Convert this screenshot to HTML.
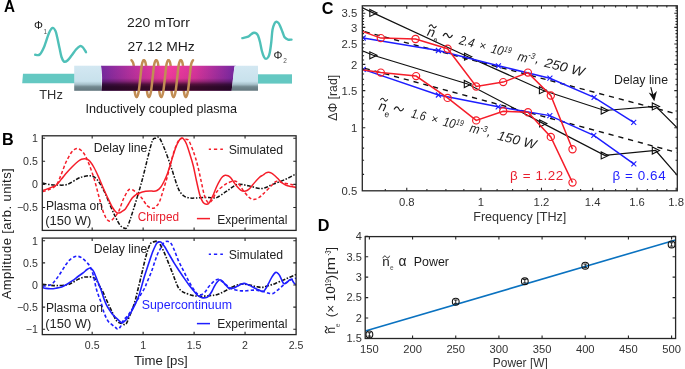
<!DOCTYPE html>
<html><head><meta charset="utf-8"><style>
html,body{margin:0;padding:0;background:#fff;}
body{width:685px;height:369px;overflow:hidden;}
svg{display:block;font-family:"Liberation Sans", sans-serif;will-change:transform;}
</style></head><body>
<svg width="685" height="369" viewBox="0 0 685 369">
<rect width="685" height="369" fill="#fff"/>
<text x="4" y="11.7" font-size="16.2" text-anchor="start" fill="#000" font-weight="bold" font-style="normal"  textLength="11" lengthAdjust="spacingAndGlyphs">A</text>
<path d="M35.2,54.8 C35.95,54.75 38.18,55.9 39.7,54.5 C41.22,53.1 42.75,49.98 44.3,46.4 C45.85,42.82 47.62,36.08 49,33 C50.38,29.92 51.52,28.23 52.6,27.9 C53.68,27.57 54.73,29.43 55.5,31 C56.27,32.57 56.53,34.47 57.2,37.3 C57.87,40.13 58.78,44.72 59.5,48 C60.22,51.28 60.75,54.73 61.5,57 C62.25,59.27 63,61.02 64,61.6 C65,62.18 66.23,61.52 67.5,60.5 C68.77,59.48 70.18,57.33 71.6,55.5 C73.02,53.67 74.6,51.07 76,49.5 C77.4,47.93 78.83,46.43 80,46.1 C81.17,45.77 82,46.48 83,47.5 C84,48.52 85.5,51.42 86,52.2" fill="none" stroke="#4fc0b8" stroke-width="2.4" stroke-linecap="round"/>
<path d="M242.4,38.1 C243.37,37.85 246.68,37.28 248.2,36.6 C249.72,35.92 250.53,34.63 251.5,34 C252.47,33.37 253.17,32.88 254,32.8 C254.83,32.72 255.82,33 256.5,33.5 C257.18,34 257.52,34.38 258.1,35.8 C258.68,37.22 259.37,39.47 260,42 C260.63,44.53 261.23,48.5 261.9,51 C262.57,53.5 263.3,55.68 264,57 C264.7,58.32 265.38,58.9 266.1,58.9 C266.82,58.9 267.68,58.07 268.3,57 C268.92,55.93 269.3,55 269.8,52.5 C270.3,50 270.85,45.8 271.3,42 C271.75,38.2 271.97,32.78 272.5,29.7 C273.03,26.62 273.87,24.82 274.5,23.5 C275.13,22.18 275.63,21.88 276.3,21.8 C276.97,21.72 277.87,22.32 278.5,23 C279.13,23.68 279.43,24.4 280.1,25.9 C280.77,27.4 281.75,30.1 282.5,32 C283.25,33.9 283.68,36.03 284.6,37.3 C285.52,38.57 286.85,39.22 288,39.6 C289.15,39.98 290.92,39.6 291.5,39.6" fill="none" stroke="#4fc0b8" stroke-width="2.4" stroke-linecap="round"/>
<text x="34" y="28.6" font-size="11.2" text-anchor="start" fill="#1a1a1a" font-weight="normal" font-style="normal" >&#934;</text>
<text x="43.6" y="33.6" font-size="6.5" text-anchor="start" fill="#555" font-weight="normal" font-style="normal" >1</text>
<text x="273.6" y="58.9" font-size="11.2" text-anchor="start" fill="#1a1a1a" font-weight="normal" font-style="normal" >&#934;</text>
<text x="283.2" y="63.3" font-size="6.5" text-anchor="start" fill="#555" font-weight="normal" font-style="normal" >2</text>
<text x="127" y="27.3" font-size="13" text-anchor="start" fill="#1a1a1a" font-weight="normal" font-style="normal"  textLength="62.8" lengthAdjust="spacingAndGlyphs">220 mTorr</text>
<text x="127.6" y="50.7" font-size="12.6" text-anchor="start" fill="#1a1a1a" font-weight="normal" font-style="normal"  textLength="67.2" lengthAdjust="spacingAndGlyphs">27.12 MHz</text>
<text x="39.3" y="99.2" font-size="13.2" text-anchor="start" fill="#333" font-weight="normal" font-style="normal"  textLength="23.5" lengthAdjust="spacingAndGlyphs">THz</text>
<text x="85.6" y="113.4" font-size="12.9" text-anchor="start" fill="#1a1a1a" font-weight="normal" font-style="normal"  textLength="151.5" lengthAdjust="spacingAndGlyphs">Inductively coupled plasma</text>
<path d="M23,73.8 L75,73.8 L75,83.2 L22.2,83.2 Z" fill="#64c8c2"/>
<rect x="257" y="74.3" width="35" height="9.3" fill="#64c8c2"/>
<defs>
<linearGradient id="capg" x1="0" y1="0" x2="0" y2="1">
 <stop offset="0" stop-color="#d3e8f2"/>
 <stop offset="0.62" stop-color="#c8e1ec"/>
 <stop offset="0.74" stop-color="#a8c2cc"/>
 <stop offset="0.84" stop-color="#72888f"/>
 <stop offset="1" stop-color="#63777e"/>
</linearGradient>
<linearGradient id="plh" x1="0" y1="0" x2="1" y2="0">
 <stop offset="0" stop-color="#772aa0"/>
 <stop offset="0.3" stop-color="#cc339e"/>
 <stop offset="0.5" stop-color="#f53d9e"/>
 <stop offset="0.7" stop-color="#d8359c"/>
 <stop offset="1" stop-color="#7428a2"/>
</linearGradient>
<linearGradient id="plv" x1="0" y1="0" x2="0" y2="1">
 <stop offset="0" stop-color="#000" stop-opacity="0"/>
 <stop offset="0.5" stop-color="#100010" stop-opacity="0.05"/>
 <stop offset="0.62" stop-color="#14000f" stop-opacity="0.28"/>
 <stop offset="0.74" stop-color="#14000f" stop-opacity="0.68"/>
 <stop offset="0.84" stop-color="#14000f" stop-opacity="0.82"/>
 <stop offset="1" stop-color="#14000f" stop-opacity="0.84"/>
</linearGradient>
</defs>
<path d="M131.5,60.2 C131.85,60.93 133.17,61.63 133.6,64.6 M133.6,64.6 C134.03,67.57 133.9,73.43 134.1,78 M134.1,78 C134.3,82.57 134.37,88.85 134.8,92 M134.8,92 C135.23,95.15 136.07,96.9 136.7,96.9 M143.8,60.2 C144.47,60.2 145.47,61.63 145.9,64.6 M145.9,64.6 C146.33,67.57 146.2,73.43 146.4,78 M146.4,78 C146.6,82.57 146.67,88.85 147.1,92 M147.1,92 C147.53,95.15 148.37,96.9 149,96.9 M156.1,60.2 C156.77,60.2 157.77,61.63 158.2,64.6 M158.2,64.6 C158.63,67.57 158.5,73.43 158.7,78 M158.7,78 C158.9,82.57 158.97,88.85 159.4,92 M159.4,92 C159.83,95.15 160.67,96.9 161.3,96.9 M168.4,60.2 C169.07,60.2 170.07,61.63 170.5,64.6 M170.5,64.6 C170.93,67.57 170.8,73.43 171,78 M171,78 C171.2,82.57 171.27,88.85 171.7,92 M171.7,92 C172.13,95.15 172.97,96.9 173.6,96.9 M180.7,60.2 C181.37,60.2 182.37,61.63 182.8,64.6 M182.8,64.6 C183.23,67.57 183.1,73.43 183.3,78 M183.3,78 C183.5,82.57 183.57,88.85 184,92 M184,92 C184.43,95.15 185.27,96.9 185.9,96.9" fill="none" stroke="#c28d54" stroke-width="2.5" stroke-linecap="round"/>
<rect x="74.2" y="65.7" width="27.5" height="25.1" fill="url(#capg)"/>
<path d="M101,65.7 L236,65.7 Q234.4,66 234.2,68 L231.6,90.8 L101.6,90.8 C102.4,84 102.4,72 101,65.7 Z" fill="url(#plh)"/>
<path d="M101,65.7 L236,65.7 Q234.4,66 234.2,68 L231.6,90.8 L101.6,90.8 C102.4,84 102.4,72 101,65.7 Z" fill="url(#plv)"/>
<path d="M234.6,65.7 L258,65.7 L258,90.8 L231.6,90.8 Z" fill="url(#capg)"/>
<path d="M136.7,96.9 C137.33,96.9 138,95.15 138.6,92 M138.6,92 C139.2,88.85 139.75,82.57 140.3,78 M140.3,78 C140.85,73.43 141.32,67.57 141.9,64.6 M141.9,64.6 C142.48,61.63 143.13,60.2 143.8,60.2 M149,96.9 C149.63,96.9 150.3,95.15 150.9,92 M150.9,92 C151.5,88.85 152.05,82.57 152.6,78 M152.6,78 C153.15,73.43 153.62,67.57 154.2,64.6 M154.2,64.6 C154.78,61.63 155.43,60.2 156.1,60.2 M161.3,96.9 C161.93,96.9 162.6,95.15 163.2,92 M163.2,92 C163.8,88.85 164.35,82.57 164.9,78 M164.9,78 C165.45,73.43 165.92,67.57 166.5,64.6 M166.5,64.6 C167.08,61.63 167.73,60.2 168.4,60.2 M173.6,96.9 C174.23,96.9 174.9,95.15 175.5,92 M175.5,92 C176.1,88.85 176.65,82.57 177.2,78 M177.2,78 C177.75,73.43 178.22,67.57 178.8,64.6 M178.8,64.6 C179.38,61.63 180.03,60.2 180.7,60.2 M185.9,96.9 C186.53,96.9 187.2,95.15 187.8,92 M187.8,92 C188.4,88.85 188.95,82.57 189.5,78 M189.5,78 C190.05,73.43 190.52,67.57 191.1,64.6 M191.1,64.6 C191.68,61.63 192.68,60.93 193,60.2" fill="none" stroke="#c28d54" stroke-width="2.5" stroke-linecap="round"/>
<text x="2" y="144.8" font-size="16.2" text-anchor="start" fill="#000" font-weight="bold" font-style="normal" >B</text>
<defs><clipPath id="cbu"><rect x="42.3" y="135.8" width="253.8" height="94.6"/></clipPath>
<clipPath id="cbl"><rect x="42.3" y="238.1" width="253.8" height="96.5"/></clipPath></defs>
<g clip-path="url(#cbu)" fill="none" stroke-width="1.5">
<path d="M42.5,183.1 C43.75,183.33 47.7,184.18 50,184.5 C52.3,184.82 53.45,185 56.3,185 C59.15,185 63.5,185.58 67.1,184.5 C70.7,183.42 75.08,179.83 77.9,178.5 C80.72,177.17 81.97,176.95 84,176.5 C86.03,176.05 88.27,175.63 90.1,175.8 C91.93,175.97 93.42,176.28 95,177.5 C96.58,178.72 97.93,180.52 99.6,183.1 C101.27,185.68 103.18,189.15 105,193 C106.82,196.85 108.75,202.2 110.5,206.2 C112.25,210.2 113.92,213.85 115.5,217 C117.08,220.15 118.58,223.27 120,225.1 C121.42,226.93 122.75,227.77 124,228 C125.25,228.23 125.9,229.68 127.5,226.5 C129.1,223.32 131.23,216.35 133.6,208.9 C135.97,201.45 139.22,190.83 141.7,181.8 C144.18,172.77 146.7,161.58 148.5,154.7 C150.3,147.82 151.33,143.25 152.5,140.5 C153.67,137.75 154.37,138.63 155.5,138.2 C156.63,137.77 157.77,136.05 159.3,137.9 C160.83,139.75 162.67,144.25 164.7,149.3 C166.73,154.35 169.23,161.65 171.5,168.2 C173.77,174.75 176.22,183.97 178.3,188.6 C180.38,193.23 182.05,194.43 184,196 C185.95,197.57 188.02,197.67 190,198 C191.98,198.33 193.4,198.1 195.9,198 C198.4,197.9 202.32,197.43 205,197.4 C207.68,197.37 209.97,197.8 212,197.8 C214.03,197.8 214.75,198.5 217.2,197.4 C219.65,196.3 223.32,193.37 226.7,191.2 C230.08,189.03 233.9,185.3 237.5,184.4 C241.1,183.5 244.25,185.12 248.3,185.8 C252.35,186.48 257.73,188.73 261.8,188.5 C265.87,188.27 268.63,185.98 272.7,184.4 C276.77,182.82 282.25,180.8 286.2,179 C290.15,177.2 294.7,174.5 296.4,173.6" stroke="#111" stroke-dasharray="4,1.6,1.5,1.6"/>
<path d="M42.5,191.5 C43.58,191.17 46.7,190.58 49,189.5 C51.3,188.42 54.3,187.42 56.3,185 C58.3,182.58 59.43,178.7 61,175 C62.57,171.3 64.03,166.47 65.7,162.8 C67.37,159.13 69.45,155.27 71,153 C72.55,150.73 73.85,149.92 75,149.2 C76.15,148.48 76.9,148.53 77.9,148.7 C78.9,148.87 79.87,149.2 81,150.2 C82.13,151.2 83.37,152.4 84.7,154.7 C86.03,157 87.42,159.93 89,164 C90.58,168.07 92.62,173.93 94.2,179.1 C95.78,184.27 97.15,190.03 98.5,195 C99.85,199.97 101.13,205.23 102.3,208.9 C103.47,212.57 104.37,214.97 105.5,217 C106.63,219.03 107.85,220.77 109.1,221.1 C110.35,221.43 111.42,220.58 113,219 C114.58,217.42 116.93,214.77 118.6,211.6 C120.27,208.43 121.42,203.52 123,200 C124.58,196.48 126.68,192.23 128.1,190.5 C129.52,188.77 130.37,189.47 131.5,189.6 C132.63,189.73 133.2,189.9 134.9,191.3 C136.6,192.7 139.67,195.62 141.7,198 C143.73,200.38 145.3,203.88 147.1,205.6 C148.9,207.32 151.1,208.07 152.5,208.3 C153.9,208.53 154.37,208.03 155.5,207 C156.63,205.97 158.05,204.77 159.3,202.1 C160.55,199.43 161.65,195.28 163,191 C164.35,186.72 166.07,181.23 167.4,176.4 C168.73,171.57 169.82,166.4 171,162 C172.18,157.6 173.28,153.48 174.5,150 C175.72,146.52 177.22,143 178.3,141.1 C179.38,139.2 180.1,139.05 181,138.6 C181.9,138.15 182.78,138.27 183.7,138.4 C184.62,138.53 185.6,138.95 186.5,139.4 C187.4,139.85 187.77,138.55 189.1,141.1 C190.43,143.65 193.02,150.38 194.5,154.7 C195.98,159.02 196.87,162.48 198,167 C199.13,171.52 200.3,177.3 201.3,181.8 C202.3,186.3 203.1,190.83 204,194 C204.9,197.17 205.78,199.37 206.7,200.8 C207.62,202.23 208.53,202.82 209.5,202.6 C210.47,202.38 211.22,201.4 212.5,199.5 C213.78,197.6 215.07,193.72 217.2,191.2 C219.33,188.68 223.17,185.93 225.3,184.4 C227.43,182.87 228.65,182.53 230,182 C231.35,181.47 232.32,181.27 233.4,181.2 C234.48,181.13 235.37,180.83 236.5,181.6 C237.63,182.37 238.95,184.15 240.2,185.8 C241.45,187.45 242.65,189.7 244,191.5 C245.35,193.3 247.05,195.35 248.3,196.6 C249.55,197.85 250.37,198.55 251.5,199 C252.63,199.45 253.85,199.55 255.1,199.3 C256.35,199.05 257.65,198.4 259,197.5 C260.35,196.6 261.15,195.85 263.2,193.9 C265.25,191.95 269.05,187.92 271.3,185.8 C273.55,183.68 274.67,181.65 276.7,181.2 C278.73,180.75 281.02,182.57 283.5,183.1 C285.98,183.63 289.45,183.92 291.6,184.4 C293.75,184.88 295.6,185.73 296.4,186" stroke="#f51e2a" stroke-dasharray="3.3,2.2"/>
<path d="M42.5,190.5 C43.43,190.18 45.8,189.52 48.1,188.6 C50.4,187.68 54.07,186.6 56.3,185 C58.53,183.4 59.7,181.12 61.5,179 C63.3,176.88 65.27,174.38 67.1,172.3 C68.93,170.22 70.7,168.3 72.5,166.5 C74.3,164.7 76.4,162.72 77.9,161.5 C79.4,160.28 80.37,159.67 81.5,159.2 C82.63,158.73 83.7,158.67 84.7,158.7 C85.7,158.73 86.6,158.93 87.5,159.4 C88.4,159.87 89.02,160.15 90.1,161.5 C91.18,162.85 92.63,165.02 94,167.5 C95.37,169.98 96.8,173.07 98.3,176.4 C99.8,179.73 101.42,183.9 103,187.5 C104.58,191.1 106.22,194.67 107.8,198 C109.38,201.33 111.1,205.12 112.5,207.5 C113.9,209.88 115.12,211.38 116.2,212.3 C117.28,213.22 118.12,213.08 119,213 C119.88,212.92 120.43,212.48 121.5,211.8 C122.57,211.12 124.23,210.2 125.4,208.9 C126.57,207.6 127.37,205.82 128.5,204 C129.63,202.18 131.03,199.5 132.2,198 C133.37,196.5 134.37,195.8 135.5,195 C136.63,194.2 137.3,193.82 139,193.2 C140.7,192.58 143.87,191.68 145.7,191.3 C147.53,190.92 148.63,190.9 150,190.9 C151.37,190.9 152.73,191.37 153.9,191.3 C155.07,191.23 155.87,191.18 157,190.5 C158.13,189.82 159.53,188.7 160.7,187.2 C161.87,185.7 162.88,183.75 164,181.5 C165.12,179.25 166.23,176.87 167.4,173.7 C168.57,170.53 169.87,166.12 171,162.5 C172.13,158.88 173.2,155 174.2,152 C175.2,149 176.1,146.53 177,144.5 C177.9,142.47 178.8,140.9 179.6,139.8 C180.4,138.7 181.1,137.98 181.8,137.9 C182.5,137.82 183.03,138.32 183.8,139.3 C184.57,140.28 185.45,141.52 186.4,143.8 C187.35,146.08 188.37,149.38 189.5,153 C190.63,156.62 192.03,160.83 193.2,165.5 C194.37,170.17 195.38,176.03 196.5,181 C197.62,185.97 198.82,191.77 199.9,195.3 C200.98,198.83 201.95,200.72 203,202.2 C204.05,203.68 205.2,204.07 206.2,204.2 C207.2,204.33 207.85,204.5 209,203 C210.15,201.5 211.85,197.87 213.1,195.2 C214.35,192.53 215.37,189.47 216.5,187 C217.63,184.53 218.9,182.1 219.9,180.4 C220.9,178.7 221.6,177.65 222.5,176.8 C223.4,175.95 224.38,175.47 225.3,175.3 C226.22,175.13 227.1,175.4 228,175.8 C228.9,176.2 229.7,176.58 230.7,177.7 C231.7,178.82 232.87,180.93 234,182.5 C235.13,184.07 236.33,185.8 237.5,187.1 C238.67,188.4 239.88,189.62 241,190.3 C242.12,190.98 243.2,191.17 244.2,191.2 C245.2,191.23 246.08,190.95 247,190.5 C247.92,190.05 248.7,189.5 249.7,188.5 C250.7,187.5 251.88,185.85 253,184.5 C254.12,183.15 255.23,181.68 256.4,180.4 C257.57,179.12 258.87,177.7 260,176.8 C261.13,175.9 262.2,175.67 263.2,175 C264.2,174.33 265.1,173.27 266,172.8 C266.9,172.33 267.68,172.13 268.6,172.2 C269.52,172.27 270.6,172.73 271.5,173.2 C272.4,173.67 273,174.15 274,175 C275,175.85 276.37,177.18 277.5,178.3 C278.63,179.42 279.72,180.72 280.8,181.7 C281.88,182.68 282.88,183.52 284,184.2 C285.12,184.88 286.33,185.4 287.5,185.8 C288.67,186.2 289.87,186.38 291,186.6 C292.13,186.82 293.4,186.87 294.3,187.1 C295.2,187.33 296.05,187.85 296.4,188" stroke="#f51e2a"/>
</g>
<g clip-path="url(#cbl)" fill="none" stroke-width="1.6">
<path d="M42.5,284.2 C43.75,284.37 47.7,284.97 50,285.2 C52.3,285.43 53.45,285.67 56.3,285.6 C59.15,285.53 64.4,285.32 67.1,284.8 C69.8,284.28 70.7,283.4 72.5,282.5 C74.3,281.6 76.08,280.28 77.9,279.4 C79.72,278.52 81.72,277.6 83.4,277.2 C85.08,276.8 86.43,277 88,277 C89.57,277 91.38,276.62 92.8,277.2 C94.22,277.78 95.37,279.02 96.5,280.5 C97.63,281.98 98.65,284.43 99.6,286.1 C100.55,287.77 100.97,288.02 102.2,290.5 C103.43,292.98 105.33,297.38 107,301 C108.67,304.62 110.58,308.85 112.2,312.2 C113.82,315.55 115.22,319.25 116.7,321.1 C118.18,322.95 119.62,322.75 121.1,323.3 C122.58,323.85 124.3,325.32 125.6,324.4 C126.9,323.48 127.43,321.32 128.9,317.8 C130.37,314.28 132.92,307.93 134.4,303.3 C135.88,298.67 136.58,294.9 137.8,290 C139.02,285.1 140.58,278.57 141.7,273.9 C142.82,269.23 143.6,265.6 144.5,262 C145.4,258.4 146.27,255.05 147.1,252.3 C147.93,249.55 148.82,247.08 149.5,245.5 C150.18,243.92 150.37,243.45 151.2,242.8 C152.03,242.15 153.38,241.83 154.5,241.6 C155.62,241.37 156.82,240.67 157.9,241.4 C158.98,242.13 159.87,243.97 161,246 C162.13,248.03 163.45,250.77 164.7,253.6 C165.95,256.43 167.15,259.62 168.5,263 C169.85,266.38 171.63,270.9 172.8,273.9 C173.97,276.9 174.58,278.73 175.5,281 C176.42,283.27 177.3,285.83 178.3,287.5 C179.3,289.17 180.38,290.1 181.5,291 C182.62,291.9 183.05,292.13 185,292.9 C186.95,293.67 190.48,295.05 193.2,295.6 C195.92,296.15 198.5,296.2 201.3,296.2 C204.1,296.2 207.58,295.8 210,295.6 C212.42,295.4 213.97,295.43 215.8,295 C217.63,294.57 219.18,293.82 221,293 C222.82,292.18 224.7,291.15 226.7,290.1 C228.7,289.05 230.75,287.68 233,286.7 C235.25,285.72 238.2,284.6 240.2,284.2 C242.2,283.8 243.2,284.12 245,284.3 C246.8,284.48 249.17,284.92 251,285.3 C252.83,285.68 254.2,286.25 256,286.6 C257.8,286.95 259.8,287.53 261.8,287.4 C263.8,287.27 265.73,286.47 268,285.8 C270.27,285.13 272.37,284.57 275.4,283.4 C278.43,282.23 282.7,280.3 286.2,278.8 C289.7,277.3 294.7,275.13 296.4,274.4" stroke="#111" stroke-dasharray="4,1.6,1.5,1.6"/>
<path d="M42.5,286.1 C43.88,285.88 48.55,285.9 50.8,284.8 C53.05,283.7 54.18,281.77 56,279.5 C57.82,277.23 60.03,273.7 61.7,271.2 C63.37,268.7 64.65,266.4 66,264.5 C67.35,262.6 68.47,261.05 69.8,259.8 C71.13,258.55 72.65,257.58 74,257 C75.35,256.42 76.57,256.13 77.9,256.3 C79.23,256.47 80.63,257.1 82,258 C83.37,258.9 84.77,260.28 86.1,261.7 C87.43,263.12 88.77,264.12 90,266.5 C91.23,268.88 92.48,272.42 93.5,276 C94.52,279.58 95.27,284.75 96.1,288 C96.93,291.25 97.75,293.32 98.5,295.5 C99.25,297.68 99.7,298.32 100.6,301.1 C101.5,303.88 102.7,308.92 103.9,312.2 C105.1,315.48 106.42,318.7 107.8,320.8 C109.18,322.9 110.92,323.68 112.2,324.8 C113.48,325.92 114.57,326.77 115.5,327.5 C116.43,328.23 116.95,329.37 117.8,329.2 C118.65,329.03 119.68,327.95 120.6,326.5 C121.52,325.05 122.1,322.32 123.3,320.5 C124.5,318.68 126.32,317.53 127.8,315.6 C129.28,313.67 130.72,311.32 132.2,308.9 C133.68,306.48 135.32,303.42 136.7,301.1 C138.08,298.78 139.22,297.1 140.5,295 C141.78,292.9 143.3,290.65 144.4,288.5 C145.5,286.35 145.92,284.93 147.1,282.1 C148.28,279.27 150.15,275.12 151.5,271.5 C152.85,267.88 154.12,263.48 155.2,260.4 C156.28,257.32 157.08,255.03 158,253 C158.92,250.97 159.83,249.78 160.7,248.2 C161.57,246.62 162.3,244.63 163.2,243.5 C164.1,242.37 165.17,241.7 166.1,241.4 C167.03,241.1 167.9,241.25 168.8,241.7 C169.7,242.15 170.55,242.63 171.5,244.1 C172.45,245.57 173.37,247.78 174.5,250.5 C175.63,253.22 176.97,257.35 178.3,260.4 C179.63,263.45 181.15,266.1 182.5,268.8 C183.85,271.5 185.15,274.15 186.4,276.6 C187.65,279.05 188.87,281.47 190,283.5 C191.13,285.53 192.2,287.28 193.2,288.8 C194.2,290.32 195.1,291.63 196,292.6 C196.9,293.57 197.6,294.28 198.6,294.6 C199.6,294.92 200.85,295.02 202,294.5 C203.15,293.98 204.42,292.75 205.5,291.5 C206.58,290.25 207.45,288.35 208.5,287 C209.55,285.65 210.72,284.48 211.8,283.4 C212.88,282.32 213.88,281.18 215,280.5 C216.12,279.82 217.42,279.22 218.5,279.3 C219.58,279.38 220.37,280.18 221.5,281 C222.63,281.82 224.05,283.2 225.3,284.2 C226.55,285.2 227.87,286.23 229,287 C230.13,287.77 230.77,288.25 232.1,288.8 C233.43,289.35 235.2,289.95 237,290.3 C238.8,290.65 241.07,290.85 242.9,290.9 C244.73,290.95 246.2,290.73 248,290.6 C249.8,290.47 251.95,290.1 253.7,290.1 C255.45,290.1 256.92,290.37 258.5,290.6 C260.08,290.83 261.62,291.1 263.2,291.5 C264.78,291.9 266.42,292.65 268,293 C269.58,293.35 271.28,293.93 272.7,293.6 C274.12,293.27 275.15,292.03 276.5,291 C277.85,289.97 279.47,288.57 280.8,287.4 C282.13,286.23 283.15,285.12 284.5,284 C285.85,282.88 287.48,281.53 288.9,280.7 C290.32,279.87 291.75,279.45 293,279 C294.25,278.55 295.83,278.17 296.4,278" stroke="#1e1eff" stroke-dasharray="3.3,2.2"/>
<path d="M42.5,287.5 C43.08,287.65 44.62,288.18 46,288.4 C47.38,288.62 49.13,288.83 50.8,288.8 C52.47,288.77 54.18,288.52 56,288.2 C57.82,287.88 59.87,287.57 61.7,286.9 C63.53,286.23 65.2,285.23 67,284.2 C68.8,283.17 70.67,281.98 72.5,280.7 C74.33,279.42 76.18,277.85 78,276.5 C79.82,275.15 81.9,273.77 83.4,272.6 C84.9,271.43 85.88,270.27 87,269.5 C88.12,268.73 89.22,268 90.1,268 C90.98,268 91.62,268.73 92.3,269.5 C92.98,270.27 93.33,270.68 94.2,272.6 C95.07,274.52 96.35,278.1 97.5,281 C98.65,283.9 100.02,287 101.1,290 C102.18,293 103.07,296.45 104,299 C104.93,301.55 105.78,303.47 106.7,305.3 C107.62,307.13 108.58,308.57 109.5,310 C110.42,311.43 110.92,312.42 112.2,313.9 C113.48,315.38 115.62,317.42 117.2,318.9 C118.78,320.38 120.53,322.37 121.7,322.8 C122.87,323.23 123.37,322.15 124.2,321.5 C125.03,320.85 125.55,320.45 126.7,318.9 C127.85,317.35 129.62,314.8 131.1,312.2 C132.58,309.6 134.3,306.07 135.6,303.3 C136.9,300.53 137.43,300.05 138.9,295.6 C140.37,291.15 142.8,281.87 144.4,276.6 C146,271.33 147.15,268.05 148.5,264 C149.85,259.95 151.33,255.38 152.5,252.3 C153.67,249.22 154.67,247.15 155.5,245.5 C156.33,243.85 156.87,243.02 157.5,242.4 C158.13,241.78 158.63,241.78 159.3,241.8 C159.97,241.82 160.6,241.67 161.5,242.5 C162.4,243.33 163.37,244.72 164.7,246.8 C166.03,248.88 167.92,252.28 169.5,255 C171.08,257.72 172.53,260.4 174.2,263.1 C175.87,265.8 177.7,268.48 179.5,271.2 C181.3,273.92 183.42,277.1 185,279.4 C186.58,281.7 187.63,283.2 189,285 C190.37,286.8 192.03,288.77 193.2,290.2 C194.37,291.63 195.1,292.6 196,293.6 C196.9,294.6 197.6,295.52 198.6,296.2 C199.6,296.88 200.87,297.43 202,297.7 C203.13,297.97 204.48,297.92 205.4,297.8 C206.32,297.68 206.88,297.38 207.5,297 C208.12,296.62 208.38,296.42 209.1,295.5 C209.82,294.58 210.9,293.07 211.8,291.5 C212.7,289.93 213.6,287.68 214.5,286.1 C215.4,284.52 216.3,283.05 217.2,282 C218.1,280.95 219,279.92 219.9,279.8 C220.8,279.68 221.7,280.48 222.6,281.3 C223.5,282.12 224.4,283.67 225.3,284.7 C226.2,285.73 227.1,286.82 228,287.5 C228.9,288.18 229.7,288.73 230.7,288.8 C231.7,288.87 232.87,288.35 234,287.9 C235.13,287.45 236.33,286.7 237.5,286.1 C238.67,285.5 239.88,284.75 241,284.3 C242.12,283.85 243.12,283.38 244.2,283.4 C245.28,283.42 246.37,283.95 247.5,284.4 C248.63,284.85 249.75,285.47 251,286.1 C252.25,286.73 253.65,287.53 255,288.2 C256.35,288.87 257.73,289.55 259.1,290.1 C260.47,290.65 262.08,291.77 263.2,291.5 C264.32,291.23 264.9,289.85 265.8,288.5 C266.7,287.15 267.57,285.35 268.6,283.4 C269.63,281.45 270.87,278.62 272,276.8 C273.13,274.98 274.52,273.17 275.4,272.5 C276.28,271.83 276.63,272.35 277.3,272.8 C277.97,273.25 278.7,274.08 279.4,275.2 C280.1,276.32 280.82,278.13 281.5,279.5 C282.18,280.87 282.83,282.73 283.5,283.4 C284.17,284.07 284.83,283.73 285.5,283.5 C286.17,283.27 286.83,282.58 287.5,282 C288.17,281.42 288.82,280.45 289.5,280 C290.18,279.55 291.02,279.05 291.6,279.3 C292.18,279.55 292.55,280.82 293,281.5 C293.45,282.18 293.73,282.87 294.3,283.4 C294.87,283.93 296.05,284.48 296.4,284.7" stroke="#1e1eff"/>
</g>
<rect x="42.3" y="135.8" width="253.8" height="94.6" fill="none" stroke="#262626" stroke-width="1.3"/>
<path d="M92.17,135.8 v2.8 M92.17,230.4 v-2.8 M143.13,135.8 v2.8 M143.13,230.4 v-2.8 M194.1,135.8 v2.8 M194.1,230.4 v-2.8 M245.06,135.8 v2.8 M245.06,230.4 v-2.8 M42.3,138.2 h2.8 M296.1,138.2 h-2.8 M42.3,161.3 h2.8 M296.1,161.3 h-2.8 M42.3,184.4 h2.8 M296.1,184.4 h-2.8 M42.3,207.5 h2.8 M296.1,207.5 h-2.8" stroke="#262626" stroke-width="1.1" fill="none"/>
<rect x="42.3" y="238.1" width="253.8" height="96.5" fill="none" stroke="#262626" stroke-width="1.3"/>
<path d="M92.17,238.1 v2.8 M92.17,334.6 v-2.8 M143.13,238.1 v2.8 M143.13,334.6 v-2.8 M194.1,238.1 v2.8 M194.1,334.6 v-2.8 M245.06,238.1 v2.8 M245.06,334.6 v-2.8 M42.3,240.8 h2.8 M296.1,240.8 h-2.8 M42.3,262.9 h2.8 M296.1,262.9 h-2.8 M42.3,285 h2.8 M296.1,285 h-2.8 M42.3,307.1 h2.8 M296.1,307.1 h-2.8 M42.3,329.2 h2.8 M296.1,329.2 h-2.8" stroke="#262626" stroke-width="1.1" fill="none"/>
<text x="37.8" y="141.9" font-size="10.6" text-anchor="end" fill="#333" font-weight="normal" font-style="normal" >1</text>
<text x="37.8" y="165" font-size="10.6" text-anchor="end" fill="#333" font-weight="normal" font-style="normal" >0.5</text>
<text x="37.8" y="188.1" font-size="10.6" text-anchor="end" fill="#333" font-weight="normal" font-style="normal" >0</text>
<text x="37.8" y="211.2" font-size="10.6" text-anchor="end" fill="#333" font-weight="normal" font-style="normal" >&#8722;0.5</text>
<text x="37.8" y="244.5" font-size="10.6" text-anchor="end" fill="#333" font-weight="normal" font-style="normal" >1</text>
<text x="37.8" y="266.6" font-size="10.6" text-anchor="end" fill="#333" font-weight="normal" font-style="normal" >0.5</text>
<text x="37.8" y="288.7" font-size="10.6" text-anchor="end" fill="#333" font-weight="normal" font-style="normal" >0</text>
<text x="37.8" y="310.8" font-size="10.6" text-anchor="end" fill="#333" font-weight="normal" font-style="normal" >&#8722;0.5</text>
<text x="37.8" y="332.9" font-size="10.6" text-anchor="end" fill="#333" font-weight="normal" font-style="normal" >&#8722;1</text>
<text x="92.17" y="349.3" font-size="10.6" text-anchor="middle" fill="#333" font-weight="normal" font-style="normal" >0.5</text>
<text x="143.13" y="349.3" font-size="10.6" text-anchor="middle" fill="#333" font-weight="normal" font-style="normal" >1</text>
<text x="194.1" y="349.3" font-size="10.6" text-anchor="middle" fill="#333" font-weight="normal" font-style="normal" >1.5</text>
<text x="245.06" y="349.3" font-size="10.6" text-anchor="middle" fill="#333" font-weight="normal" font-style="normal" >2</text>
<text x="296.03" y="349.3" font-size="10.6" text-anchor="middle" fill="#333" font-weight="normal" font-style="normal" >2.5</text>
<text x="133.9" y="364.7" font-size="13" text-anchor="start" fill="#222" font-weight="normal" font-style="normal"  textLength="53.8" lengthAdjust="spacingAndGlyphs">Time [ps]</text>
<text transform="translate(10.9,299.3) rotate(-90)" font-size="13" fill="#222" textLength="131" lengthAdjust="spacing">Amplitude [arb. units]</text>
<text x="93.7" y="151.9" font-size="13" text-anchor="start" fill="#222" font-weight="normal" font-style="normal"  textLength="53.7" lengthAdjust="spacingAndGlyphs">Delay line</text>
<path d="M208.8,149.2 H211 M213.9,149.2 H217.2 M220.3,149.2 H222.9" stroke="#f51e2a" stroke-width="1.5"/>
<text x="228.7" y="153.8" font-size="13" text-anchor="start" fill="#222" font-weight="normal" font-style="normal"  textLength="54.4" lengthAdjust="spacingAndGlyphs">Simulated</text>
<text x="45.9" y="209.6" font-size="12.8" text-anchor="start" fill="#222" font-weight="normal" font-style="normal"  textLength="57" lengthAdjust="spacingAndGlyphs">Plasma on</text>
<text x="45.3" y="225.4" font-size="12.5" text-anchor="start" fill="#222" font-weight="normal" font-style="normal"  textLength="46.1" lengthAdjust="spacingAndGlyphs">(150 W)</text>
<text x="137.7" y="221.3" font-size="13.3" text-anchor="start" fill="#e8202e" font-weight="normal" font-style="normal"  textLength="41.4" lengthAdjust="spacingAndGlyphs">Chirped</text>
<path d="M196.9,218.6 H210" stroke="#f51e2a" stroke-width="1.5"/>
<text x="217.2" y="223.7" font-size="13" text-anchor="start" fill="#222" font-weight="normal" font-style="normal"  textLength="70.3" lengthAdjust="spacingAndGlyphs">Experimental</text>
<text x="93.7" y="253" font-size="13" text-anchor="start" fill="#222" font-weight="normal" font-style="normal"  textLength="53.7" lengthAdjust="spacingAndGlyphs">Delay line</text>
<path d="M208.8,254.3 H211 M213.9,254.3 H217.2 M220.3,254.3 H222.9" stroke="#1e1eff" stroke-width="1.6"/>
<text x="228.7" y="259" font-size="13" text-anchor="start" fill="#222" font-weight="normal" font-style="normal"  textLength="54.4" lengthAdjust="spacingAndGlyphs">Simulated</text>
<text x="45.9" y="312.4" font-size="12.8" text-anchor="start" fill="#222" font-weight="normal" font-style="normal"  textLength="57" lengthAdjust="spacingAndGlyphs">Plasma on</text>
<text x="45.3" y="328.2" font-size="12.5" text-anchor="start" fill="#222" font-weight="normal" font-style="normal"  textLength="46.1" lengthAdjust="spacingAndGlyphs">(150 W)</text>
<text x="141.7" y="308.7" font-size="12.6" text-anchor="start" fill="#1e1eff" font-weight="normal" font-style="normal"  textLength="90.3" lengthAdjust="spacingAndGlyphs">Supercontinuum</text>
<path d="M196.9,323.6 H210" stroke="#1e1eff" stroke-width="1.5"/>
<text x="217.2" y="328" font-size="13" text-anchor="start" fill="#222" font-weight="normal" font-style="normal"  textLength="70.3" lengthAdjust="spacingAndGlyphs">Experimental</text>
<text x="321.8" y="13.9" font-size="16.2" text-anchor="start" fill="#000" font-weight="bold" font-style="normal" >C</text>
<defs><clipPath id="cc"><rect x="362.3" y="5.8" width="315" height="185"/></clipPath></defs>
<g clip-path="url(#cc)" fill="none">
<path d="M355,29.2 L680,114.8" stroke="#111" stroke-width="1.4" stroke-dasharray="5.2,4.9"/>
<path d="M355,65.7 L680,153.3" stroke="#111" stroke-width="1.4" stroke-dasharray="5.2,4.9"/>
<path d="M355,4.2 L373.2,12.9 L467.9,56.7 L542.8,90.2 L604.6,110.5 L655.7,106.4 L682,132.6" stroke="#111" stroke-width="1.2"/>
<path d="M369.8,9.4 l0,7 l7.2,-3.5 Z" stroke="#111" stroke-width="1.1" fill="none"/>
<path d="M464.5,53.2 l0,7 l7.2,-3.5 Z" stroke="#111" stroke-width="1.1" fill="none"/>
<path d="M539.4,86.7 l0,7 l7.2,-3.5 Z" stroke="#111" stroke-width="1.1" fill="none"/>
<path d="M601.2,107 l0,7 l7.2,-3.5 Z" stroke="#111" stroke-width="1.1" fill="none"/>
<path d="M652.3,102.9 l0,7 l7.2,-3.5 Z" stroke="#111" stroke-width="1.1" fill="none"/>
<path d="M355,47.6 L373.2,55.3 L467.7,84 L543,123.4 L604.6,155.4 L655.7,150.5 L682,180.8" stroke="#111" stroke-width="1.2"/>
<path d="M369.8,51.8 l0,7 l7.2,-3.5 Z" stroke="#111" stroke-width="1.1" fill="none"/>
<path d="M464.3,80.5 l0,7 l7.2,-3.5 Z" stroke="#111" stroke-width="1.1" fill="none"/>
<path d="M539.6,119.9 l0,7 l7.2,-3.5 Z" stroke="#111" stroke-width="1.1" fill="none"/>
<path d="M601.2,151.9 l0,7 l7.2,-3.5 Z" stroke="#111" stroke-width="1.1" fill="none"/>
<path d="M652.3,147 l0,7 l7.2,-3.5 Z" stroke="#111" stroke-width="1.1" fill="none"/>
<path d="M363.2,38 L438.4,50.5 L498.4,65.8 L549.9,78.2 L594.1,97.3 L633.7,122.3" stroke="#1e1eff" stroke-width="1.5"/>
<path d="M360.7,35.5 l5,5 M365.7,35.5 l-5,5" stroke="#1e1eff" stroke-width="1.1"/>
<path d="M435.9,48 l5,5 M440.9,48 l-5,5" stroke="#1e1eff" stroke-width="1.1"/>
<path d="M495.9,63.3 l5,5 M500.9,63.3 l-5,5" stroke="#1e1eff" stroke-width="1.1"/>
<path d="M547.4,75.7 l5,5 M552.4,75.7 l-5,5" stroke="#1e1eff" stroke-width="1.1"/>
<path d="M591.6,94.8 l5,5 M596.6,94.8 l-5,5" stroke="#1e1eff" stroke-width="1.1"/>
<path d="M631.2,119.8 l5,5 M636.2,119.8 l-5,5" stroke="#1e1eff" stroke-width="1.1"/>
<path d="M363.2,69.4 L438.4,95 L498.2,106.8 L549.8,115.6 L593.8,135.4 L633.8,163.8" stroke="#1e1eff" stroke-width="1.5"/>
<path d="M360.7,66.9 l5,5 M365.7,66.9 l-5,5" stroke="#1e1eff" stroke-width="1.1"/>
<path d="M435.9,92.5 l5,5 M440.9,92.5 l-5,5" stroke="#1e1eff" stroke-width="1.1"/>
<path d="M495.7,104.3 l5,5 M500.7,104.3 l-5,5" stroke="#1e1eff" stroke-width="1.1"/>
<path d="M547.3,113.1 l5,5 M552.3,113.1 l-5,5" stroke="#1e1eff" stroke-width="1.1"/>
<path d="M591.3,132.9 l5,5 M596.3,132.9 l-5,5" stroke="#1e1eff" stroke-width="1.1"/>
<path d="M631.3,161.3 l5,5 M636.3,161.3 l-5,5" stroke="#1e1eff" stroke-width="1.1"/>
<path d="M355,28.7 L380.8,38.1 L415.5,39 L447.6,48.7 L476.2,86.5 L503.2,82.1 L527.9,72.6 L550.8,95.5 L572.5,149.2" stroke="#f51e2a" stroke-width="1.5"/>
<circle cx="380.8" cy="38.1" r="3.6" stroke="#f51e2a" stroke-width="1.2"/>
<circle cx="415.5" cy="39" r="3.6" stroke="#f51e2a" stroke-width="1.2"/>
<circle cx="447.6" cy="48.7" r="3.6" stroke="#f51e2a" stroke-width="1.2"/>
<circle cx="476.2" cy="86.5" r="3.6" stroke="#f51e2a" stroke-width="1.2"/>
<circle cx="503.2" cy="82.1" r="3.6" stroke="#f51e2a" stroke-width="1.2"/>
<circle cx="527.9" cy="72.6" r="3.6" stroke="#f51e2a" stroke-width="1.2"/>
<circle cx="550.8" cy="95.5" r="3.6" stroke="#f51e2a" stroke-width="1.2"/>
<circle cx="572.5" cy="149.2" r="3.6" stroke="#f51e2a" stroke-width="1.2"/>
<path d="M355,68.6 L380.8,72.6 L416.1,76.1 L447.6,97.9 L476.2,120.4 L503.2,111.2 L528,112.3 L550.8,136.9 L572.5,182.6" stroke="#f51e2a" stroke-width="1.5"/>
<circle cx="380.8" cy="72.6" r="3.6" stroke="#f51e2a" stroke-width="1.2"/>
<circle cx="416.1" cy="76.1" r="3.6" stroke="#f51e2a" stroke-width="1.2"/>
<circle cx="447.6" cy="97.9" r="3.6" stroke="#f51e2a" stroke-width="1.2"/>
<circle cx="476.2" cy="120.4" r="3.6" stroke="#f51e2a" stroke-width="1.2"/>
<circle cx="503.2" cy="111.2" r="3.6" stroke="#f51e2a" stroke-width="1.2"/>
<circle cx="528" cy="112.3" r="3.6" stroke="#f51e2a" stroke-width="1.2"/>
<circle cx="550.8" cy="136.9" r="3.6" stroke="#f51e2a" stroke-width="1.2"/>
<circle cx="572.5" cy="182.6" r="3.6" stroke="#f51e2a" stroke-width="1.2"/>
</g>
<rect x="362.3" y="5.8" width="315" height="185" fill="none" stroke="#262626" stroke-width="1.3"/>
<path d="M385.32,190.8 v-1.8 M385.32,5.8 v1.8 M406.76,190.8 v-3 M406.76,5.8 v3 M426.91,190.8 v-1.8 M426.91,5.8 v1.8 M445.9,190.8 v-1.8 M445.9,5.8 v1.8 M463.86,190.8 v-1.8 M463.86,5.8 v1.8 M480.9,190.8 v-3 M480.9,5.8 v3 M497.11,190.8 v-1.8 M497.11,5.8 v1.8 M512.57,190.8 v-1.8 M512.57,5.8 v1.8 M527.33,190.8 v-1.8 M527.33,5.8 v1.8 M541.47,190.8 v-3 M541.47,5.8 v3 M555.04,190.8 v-1.8 M555.04,5.8 v1.8 M568.07,190.8 v-1.8 M568.07,5.8 v1.8 M580.61,190.8 v-1.8 M580.61,5.8 v1.8 M592.69,190.8 v-3 M592.69,5.8 v3 M604.35,190.8 v-1.8 M604.35,5.8 v1.8 M615.61,190.8 v-1.8 M615.61,5.8 v1.8 M626.5,190.8 v-1.8 M626.5,5.8 v1.8 M637.05,190.8 v-3 M637.05,5.8 v3 M647.28,190.8 v-1.8 M647.28,5.8 v1.8 M657.19,190.8 v-1.8 M657.19,5.8 v1.8 M666.82,190.8 v-1.8 M666.82,5.8 v1.8 M676.18,190.8 v-3 M676.18,5.8 v3 M362.3,174.35 h1.8 M677.3,174.35 h-1.8 M362.3,160.28 h1.8 M677.3,160.28 h-1.8 M362.3,148.08 h1.8 M677.3,148.08 h-1.8 M362.3,137.32 h1.8 M677.3,137.32 h-1.8 M362.3,127.7 h3 M677.3,127.7 h-3 M362.3,119 h1.8 M677.3,119 h-1.8 M362.3,111.05 h1.8 M677.3,111.05 h-1.8 M362.3,103.74 h1.8 M677.3,103.74 h-1.8 M362.3,96.97 h1.8 M677.3,96.97 h-1.8 M362.3,90.67 h3 M677.3,90.67 h-3 M362.3,84.77 h1.8 M677.3,84.77 h-1.8 M362.3,79.24 h1.8 M677.3,79.24 h-1.8 M362.3,74.02 h1.8 M677.3,74.02 h-1.8 M362.3,69.08 h1.8 M677.3,69.08 h-1.8 M362.3,64.39 h3 M677.3,64.39 h-3 M362.3,59.94 h1.8 M677.3,59.94 h-1.8 M362.3,55.69 h1.8 M677.3,55.69 h-1.8 M362.3,51.63 h1.8 M677.3,51.63 h-1.8 M362.3,47.74 h1.8 M677.3,47.74 h-1.8 M362.3,44.01 h3 M677.3,44.01 h-3 M362.3,40.43 h1.8 M677.3,40.43 h-1.8 M362.3,36.98 h1.8 M677.3,36.98 h-1.8 M362.3,33.66 h1.8 M677.3,33.66 h-1.8 M362.3,30.46 h1.8 M677.3,30.46 h-1.8 M362.3,27.36 h3 M677.3,27.36 h-3 M362.3,24.37 h1.8 M677.3,24.37 h-1.8 M362.3,21.47 h1.8 M677.3,21.47 h-1.8 M362.3,18.66 h1.8 M677.3,18.66 h-1.8 M362.3,15.93 h1.8 M677.3,15.93 h-1.8 M362.3,13.28 h3 M677.3,13.28 h-3 M362.3,10.71 h1.8 M677.3,10.71 h-1.8 M362.3,8.21 h1.8 M677.3,8.21 h-1.8" stroke="#262626" stroke-width="1.1" fill="none"/>
<text x="357.3" y="17.48" font-size="11.3" text-anchor="end" fill="#333" font-weight="normal" font-style="normal" >3.5</text>
<text x="357.3" y="31.56" font-size="11.3" text-anchor="end" fill="#333" font-weight="normal" font-style="normal" >3</text>
<text x="357.3" y="48.21" font-size="11.3" text-anchor="end" fill="#333" font-weight="normal" font-style="normal" >2.5</text>
<text x="357.3" y="68.59" font-size="11.3" text-anchor="end" fill="#333" font-weight="normal" font-style="normal" >2</text>
<text x="357.3" y="94.87" font-size="11.3" text-anchor="end" fill="#333" font-weight="normal" font-style="normal" >1.5</text>
<text x="357.3" y="131.9" font-size="11.3" text-anchor="end" fill="#333" font-weight="normal" font-style="normal" >1</text>
<text x="357.3" y="195.21" font-size="11.3" text-anchor="end" fill="#333" font-weight="normal" font-style="normal" >0.5</text>
<text x="406.76" y="206" font-size="11.3" text-anchor="middle" fill="#333" font-weight="normal" font-style="normal" >0.8</text>
<text x="480.9" y="206" font-size="11.3" text-anchor="middle" fill="#333" font-weight="normal" font-style="normal" >1</text>
<text x="541.47" y="206" font-size="11.3" text-anchor="middle" fill="#333" font-weight="normal" font-style="normal" >1.2</text>
<text x="592.69" y="206" font-size="11.3" text-anchor="middle" fill="#333" font-weight="normal" font-style="normal" >1.4</text>
<text x="637.05" y="206" font-size="11.3" text-anchor="middle" fill="#333" font-weight="normal" font-style="normal" >1.6</text>
<text x="676.18" y="206" font-size="11.3" text-anchor="middle" fill="#333" font-weight="normal" font-style="normal" >1.8</text>
<text x="473.2" y="220.7" font-size="13" text-anchor="start" fill="#333" font-weight="normal" font-style="normal"  textLength="93.1" lengthAdjust="spacingAndGlyphs">Frequency [THz]</text>
<text transform="translate(337.0,120.8) rotate(-90)" font-size="12" fill="#333" textLength="46" lengthAdjust="spacingAndGlyphs">&#916;&#934; [rad]</text>
<text x="614.1" y="84.4" font-size="12.6" text-anchor="start" fill="#222" font-weight="normal" font-style="normal"  textLength="53.9" lengthAdjust="spacingAndGlyphs">Delay line</text>
<path d="M650.8,87.2 L653.2,96.5" stroke="#111" stroke-width="1.2"/>
<path d="M648.7,92.6 L653.1,94.6 L656.9,90.9 L654.3,101.3 Z" fill="#111"/>
<text x="510" y="180.3" font-size="13.4" text-anchor="start" fill="#e8202e" font-weight="normal" font-style="normal"  textLength="53.3" lengthAdjust="spacing">&#946; = 1.22</text>
<text x="612.4" y="180.3" font-size="13.4" text-anchor="start" fill="#1e1eff" font-weight="normal" font-style="normal"  textLength="53.2" lengthAdjust="spacing">&#946; = 0.64</text>
<text transform="translate(426.4,35.4) rotate(14.7)" x="0" y="0" font-size="13.5" fill="#1a1a1a" font-style="italic"  textLength="7.6" lengthAdjust="spacingAndGlyphs">n</text>
<path transform="translate(429.4,25.5) rotate(14.7)" d="M0,0.91 C0.82,-1.56 2.18,-1.56 3.4,0 S5.98,1.56 6.8,-0.91" fill="none" stroke="#1a1a1a" stroke-width="1.05" stroke-linecap="round"/>
<text transform="translate(433,41.5) rotate(14.7)" x="0" y="0" font-size="7.2" fill="#1a1a1a" font-style="normal" >e</text>
<path transform="translate(443.6,34.4) rotate(14.7)" d="M0,1.26 C1.03,-2.16 2.75,-2.16 4.3,0 S7.57,2.16 8.6,-1.26" fill="none" stroke="#1a1a1a" stroke-width="1.25" stroke-linecap="round"/>
<text transform="translate(458.4,43.9) rotate(14.7)" x="0" y="0" font-size="13" fill="#1a1a1a" font-style="italic"  textLength="15.2" lengthAdjust="spacingAndGlyphs">2.4</text>
<text transform="translate(478.6,48.4) rotate(14.7)" x="0" y="0" font-size="11.5" fill="#1a1a1a" font-style="italic" >&#215;</text>
<text transform="translate(490.2,52.4) rotate(14.7)" x="0" y="0" font-size="13" fill="#1a1a1a" font-style="italic"  textLength="12.4" lengthAdjust="spacingAndGlyphs">10</text>
<text transform="translate(503.6,51.6) rotate(14.7)" x="0" y="0" font-size="8.6" fill="#1a1a1a" font-style="italic"  textLength="7.6" lengthAdjust="spacingAndGlyphs">19</text>
<text transform="translate(517.1,60.2) rotate(14.7)" x="0" y="0" font-size="13" fill="#1a1a1a" font-style="italic"  textLength="9.8" lengthAdjust="spacingAndGlyphs">m</text>
<text transform="translate(527.8,57.6) rotate(14.7)" x="0" y="0" font-size="8.6" fill="#1a1a1a" font-style="italic"  textLength="6.8" lengthAdjust="spacingAndGlyphs">-3</text>
<text transform="translate(535,62.6) rotate(14.7)" x="0" y="0" font-size="13" fill="#1a1a1a" font-style="italic" >,</text>
<text transform="translate(543.8,66.4) rotate(14.7)" x="0" y="0" font-size="13.2" fill="#1a1a1a" font-style="italic"  textLength="40.5" lengthAdjust="spacingAndGlyphs">250 W</text>
<text transform="translate(378,109.8) rotate(14.2)" x="0" y="0" font-size="13.5" fill="#1a1a1a" font-style="italic"  textLength="7.6" lengthAdjust="spacingAndGlyphs">n</text>
<path transform="translate(380.8,98.8) rotate(14.2)" d="M0,0.91 C0.82,-1.56 2.18,-1.56 3.4,0 S5.98,1.56 6.8,-0.91" fill="none" stroke="#1a1a1a" stroke-width="1.05" stroke-linecap="round"/>
<text transform="translate(384,116.6) rotate(14.2)" x="0" y="0" font-size="8.6" fill="#222" font-style="normal" >e</text>
<path transform="translate(394.6,107.8) rotate(14.2)" d="M0,1.26 C1.06,-2.16 2.82,-2.16 4.4,0 S7.74,2.16 8.8,-1.26" fill="none" stroke="#1a1a1a" stroke-width="1.25" stroke-linecap="round"/>
<text transform="translate(410.4,117.3) rotate(14.2)" x="0" y="0" font-size="13" fill="#1a1a1a" font-style="italic"  textLength="14.6" lengthAdjust="spacingAndGlyphs">1.6</text>
<text transform="translate(430.4,121.9) rotate(14.2)" x="0" y="0" font-size="11.5" fill="#1a1a1a" font-style="italic" >&#215;</text>
<text transform="translate(442.2,125.6) rotate(14.2)" x="0" y="0" font-size="13" fill="#1a1a1a" font-style="italic"  textLength="12.4" lengthAdjust="spacingAndGlyphs">10</text>
<text transform="translate(455.5,124.6) rotate(14.2)" x="0" y="0" font-size="8.6" fill="#1a1a1a" font-style="italic"  textLength="7.6" lengthAdjust="spacingAndGlyphs">19</text>
<text transform="translate(468.9,131.7) rotate(14.2)" x="0" y="0" font-size="13" fill="#1a1a1a" font-style="italic"  textLength="9.8" lengthAdjust="spacingAndGlyphs">m</text>
<text transform="translate(480,130.6) rotate(14.2)" x="0" y="0" font-size="8.6" fill="#1a1a1a" font-style="italic"  textLength="6.8" lengthAdjust="spacingAndGlyphs">-3</text>
<text transform="translate(486.8,135.4) rotate(14.2)" x="0" y="0" font-size="13" fill="#1a1a1a" font-style="italic" >,</text>
<text transform="translate(496.7,139.4) rotate(14.2)" x="0" y="0" font-size="13.2" fill="#1a1a1a" font-style="italic"  textLength="39.5" lengthAdjust="spacingAndGlyphs">150 W</text>
<text x="317.8" y="230.8" font-size="16.2" text-anchor="start" fill="#000" font-weight="bold" font-style="normal" >D</text>
<defs><clipPath id="cd"><rect x="365.2" y="236.6" width="310.4" height="101.9"/></clipPath></defs>
<path clip-path="url(#cd)" d="M365.3,331.1 L675.6,239.9" stroke="#0a72c0" stroke-width="1.6" fill="none"/>
<circle cx="369.4" cy="334.41" r="3.4" stroke="#111" stroke-width="1.1" fill="none"/>
<path d="M367.6,332.71 h3.6 M367.6,336.11 h3.6 M369.4,332.71 v3.4" stroke="#111" stroke-width="0.9"/>
<circle cx="455.74" cy="301.69" r="3.4" stroke="#111" stroke-width="1.1" fill="none"/>
<path d="M453.94,299.99 h3.6 M453.94,303.39 h3.6 M455.74,299.99 v3.4" stroke="#111" stroke-width="0.9"/>
<circle cx="524.81" cy="281.24" r="3.4" stroke="#111" stroke-width="1.1" fill="none"/>
<path d="M523.01,279.54 h3.6 M523.01,282.94 h3.6 M524.81,279.54 v3.4" stroke="#111" stroke-width="0.9"/>
<circle cx="585.25" cy="265.7" r="3.4" stroke="#111" stroke-width="1.1" fill="none"/>
<path d="M583.45,264 h3.6 M583.45,267.4 h3.6 M585.25,264 v3.4" stroke="#111" stroke-width="0.9"/>
<circle cx="671.59" cy="244.43" r="3.4" stroke="#111" stroke-width="1.1" fill="none"/>
<path d="M669.79,242.73 h3.6 M669.79,246.13 h3.6 M671.59,242.73 v3.4" stroke="#111" stroke-width="0.9"/>
<rect x="365.2" y="236.6" width="310.4" height="101.9" fill="none" stroke="#262626" stroke-width="1.3"/>
<path d="M369.4,338.5 v-3 M369.4,236.6 v3 M412.57,338.5 v-3 M412.57,236.6 v3 M455.74,338.5 v-3 M455.74,236.6 v3 M498.91,338.5 v-3 M498.91,236.6 v3 M542.08,338.5 v-3 M542.08,236.6 v3 M585.25,338.5 v-3 M585.25,236.6 v3 M628.42,338.5 v-3 M628.42,236.6 v3 M671.59,338.5 v-3 M671.59,236.6 v3 M365.2,338.5 h3 M675.6,338.5 h-3 M365.2,318.05 h3 M675.6,318.05 h-3 M365.2,297.6 h3 M675.6,297.6 h-3 M365.2,277.15 h3 M675.6,277.15 h-3 M365.2,256.7 h3 M675.6,256.7 h-3 M365.2,236.25 h3 M675.6,236.25 h-3" stroke="#262626" stroke-width="1.1" fill="none"/>
<text x="361.8" y="342.3" font-size="11" text-anchor="end" fill="#333" font-weight="normal" font-style="normal" >1.5</text>
<text x="361.8" y="321.85" font-size="11" text-anchor="end" fill="#333" font-weight="normal" font-style="normal" >2</text>
<text x="361.8" y="301.4" font-size="11" text-anchor="end" fill="#333" font-weight="normal" font-style="normal" >2.5</text>
<text x="361.8" y="280.95" font-size="11" text-anchor="end" fill="#333" font-weight="normal" font-style="normal" >3</text>
<text x="361.8" y="260.5" font-size="11" text-anchor="end" fill="#333" font-weight="normal" font-style="normal" >3.5</text>
<text x="361.8" y="240.05" font-size="11" text-anchor="end" fill="#333" font-weight="normal" font-style="normal" >4</text>
<text x="369.4" y="352.8" font-size="11.2" text-anchor="middle" fill="#333" font-weight="normal" font-style="normal" >150</text>
<text x="412.57" y="352.8" font-size="11.2" text-anchor="middle" fill="#333" font-weight="normal" font-style="normal" >200</text>
<text x="455.74" y="352.8" font-size="11.2" text-anchor="middle" fill="#333" font-weight="normal" font-style="normal" >250</text>
<text x="498.91" y="352.8" font-size="11.2" text-anchor="middle" fill="#333" font-weight="normal" font-style="normal" >300</text>
<text x="542.08" y="352.8" font-size="11.2" text-anchor="middle" fill="#333" font-weight="normal" font-style="normal" >350</text>
<text x="585.25" y="352.8" font-size="11.2" text-anchor="middle" fill="#333" font-weight="normal" font-style="normal" >400</text>
<text x="628.42" y="352.8" font-size="11.2" text-anchor="middle" fill="#333" font-weight="normal" font-style="normal" >450</text>
<text x="671.59" y="352.8" font-size="11.2" text-anchor="middle" fill="#333" font-weight="normal" font-style="normal" >500</text>
<text x="492.8" y="366.6" font-size="12.2" text-anchor="start" fill="#333" font-weight="normal" font-style="normal"  textLength="55" lengthAdjust="spacingAndGlyphs">Power [W]</text>
<text transform="translate(335.2,333.6) rotate(-90)" x="0" y="0" font-size="12.2" fill="#222" font-style="normal"  textLength="6.4" lengthAdjust="spacingAndGlyphs">n</text>
<path transform="translate(326.2,333) rotate(-90)" d="M0,0.8 C0.77,-1.38 2.05,-1.38 3.2,0 S5.63,1.38 6.4,-0.8" fill="none" stroke="#222" stroke-width="1.1" stroke-linecap="round"/>
<text transform="translate(340.4,327.3) rotate(-90)" x="0" y="0" font-size="6.8" fill="#555" font-style="normal" >e</text>
<text transform="translate(334.8,317.2) rotate(-90)" x="0" y="0" font-size="12.4" fill="#222" font-style="normal"  textLength="30.9" lengthAdjust="spacingAndGlyphs">(&#215; 10</text>
<text transform="translate(330.9,286.4) rotate(-90)" x="0" y="0" font-size="8.4" fill="#222" font-style="normal"  textLength="7.1" lengthAdjust="spacingAndGlyphs">19</text>
<text transform="translate(334.8,280) rotate(-90)" x="0" y="0" font-size="12.4" fill="#222" font-style="normal"  textLength="23" lengthAdjust="spacingAndGlyphs">)[m</text>
<text transform="translate(330.6,255.6) rotate(-90)" x="0" y="0" font-size="8.4" fill="#222" font-style="normal"  textLength="5" lengthAdjust="spacingAndGlyphs">-3</text>
<text transform="translate(334.8,250.4) rotate(-90)" x="0" y="0" font-size="12.4" fill="#222" font-style="normal" >]</text>
<text x="382.2" y="265.5" font-size="13.4" fill="#1a1a1a">n</text>
<path transform="translate(383,257) rotate(0)" d="M0,0.84 C0.77,-1.44 2.05,-1.44 3.2,0 S5.63,1.44 6.4,-0.84" fill="none" stroke="#1a1a1a" stroke-width="1" stroke-linecap="round"/>
<text x="389.9" y="270.2" font-size="6.5" fill="#555">e</text>
<text x="398.4" y="265.5" font-size="13.8" fill="#1a1a1a">&#945;</text>
<text x="413.8" y="265.5" font-size="13.4" text-anchor="start" fill="#1a1a1a" font-weight="normal" font-style="normal"  textLength="35.2" lengthAdjust="spacingAndGlyphs">Power</text>
</svg>
</body></html>
